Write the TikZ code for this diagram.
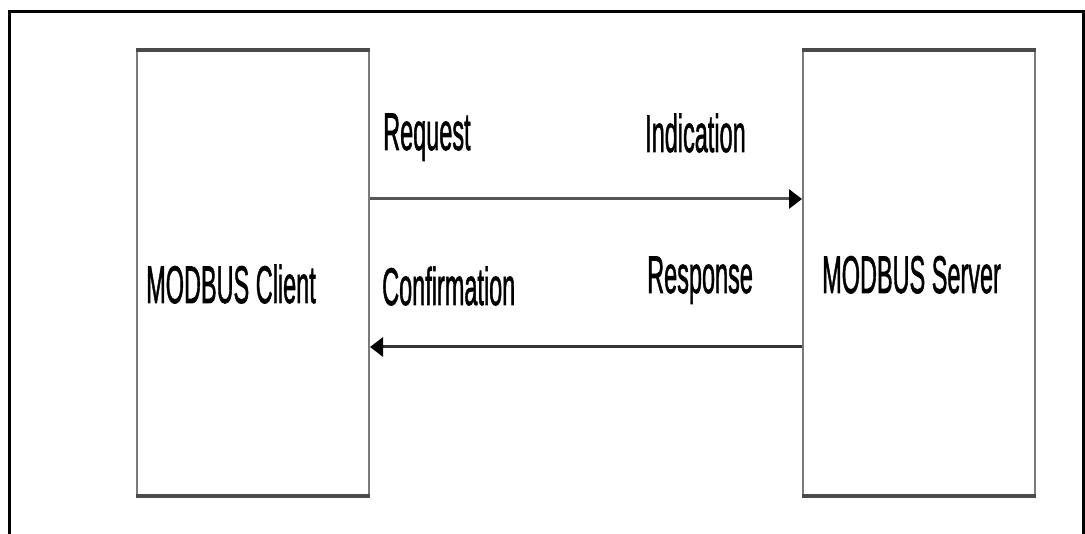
\documentclass[tikz,border=0pt]{standalone}
\usepackage{fontspec}
\setmainfont{Liberation Sans}
\newfontfamily\labelface{Liberation Sans}[FakeBold=1.6]
\usetikzlibrary{arrows.meta}
\definecolor{sidegray}{HTML}{7A7A7A}
\definecolor{edgegray}{HTML}{4A4A4A}
\definecolor{linegray}{HTML}{555555}
\newcommand{\tallfont}[1]{\scalebox{0.443}[1]{\labelface\fontsize{53}{60}\selectfont #1}}
\tikzset{
  frame/.style={line width=3pt, black},
  unitbox/.style={draw=sidegray, line width=2pt, minimum width=232pt, minimum height=444pt, inner sep=0pt},
  boxedge/.style={draw=edgegray, line width=3.2pt},
  lbl/.style={anchor=base west, inner sep=0pt, text=black},
  msg/.style={draw=linegray, line width=3pt, -{Triangle[length=13pt,width=19pt,color=black]}, shorten >=0pt},
}
\begin{document}
\begin{tikzpicture}[x=1pt,y=-1pt]
\useasboundingbox (0,0) rectangle (1085,534);
% outer frame, open at the bottom
\draw[frame] (9,534) -- (9,12) -- (1083,12) -- (1083,534);
% the two parties
\node[unitbox] (client) at (253,273) {};
\node[unitbox] (server) at (919,273) {};
\foreach \n in {client,server}{
  \draw[boxedge] (\n.north west) -- (\n.north east);
  \draw[boxedge] (\n.south west) -- (\n.south east);
}
\node[lbl] (clientname) at (146,303) {\tallfont{MODBUS Client}};
\node[lbl] (servername) at (822,293) {\tallfont{MODBUS Server}};
% messages
\draw[msg] ([yshift=74pt]client.east) -- ([yshift=74pt]server.west);
\draw[msg, draw=black!80] ([yshift=-74pt]server.west) -- ([yshift=-74pt]client.east);
\node[lbl] (request) at (383,150) {\tallfont{Request}};
\node[lbl] (indication) at (645,152) {\tallfont{Indication}};
\node[lbl] (confirmation) at (382,305) {\tallfont{Confirmation}};
\node[lbl] (response) at (647,293) {\tallfont{Response}};
\end{tikzpicture}
\end{document}
